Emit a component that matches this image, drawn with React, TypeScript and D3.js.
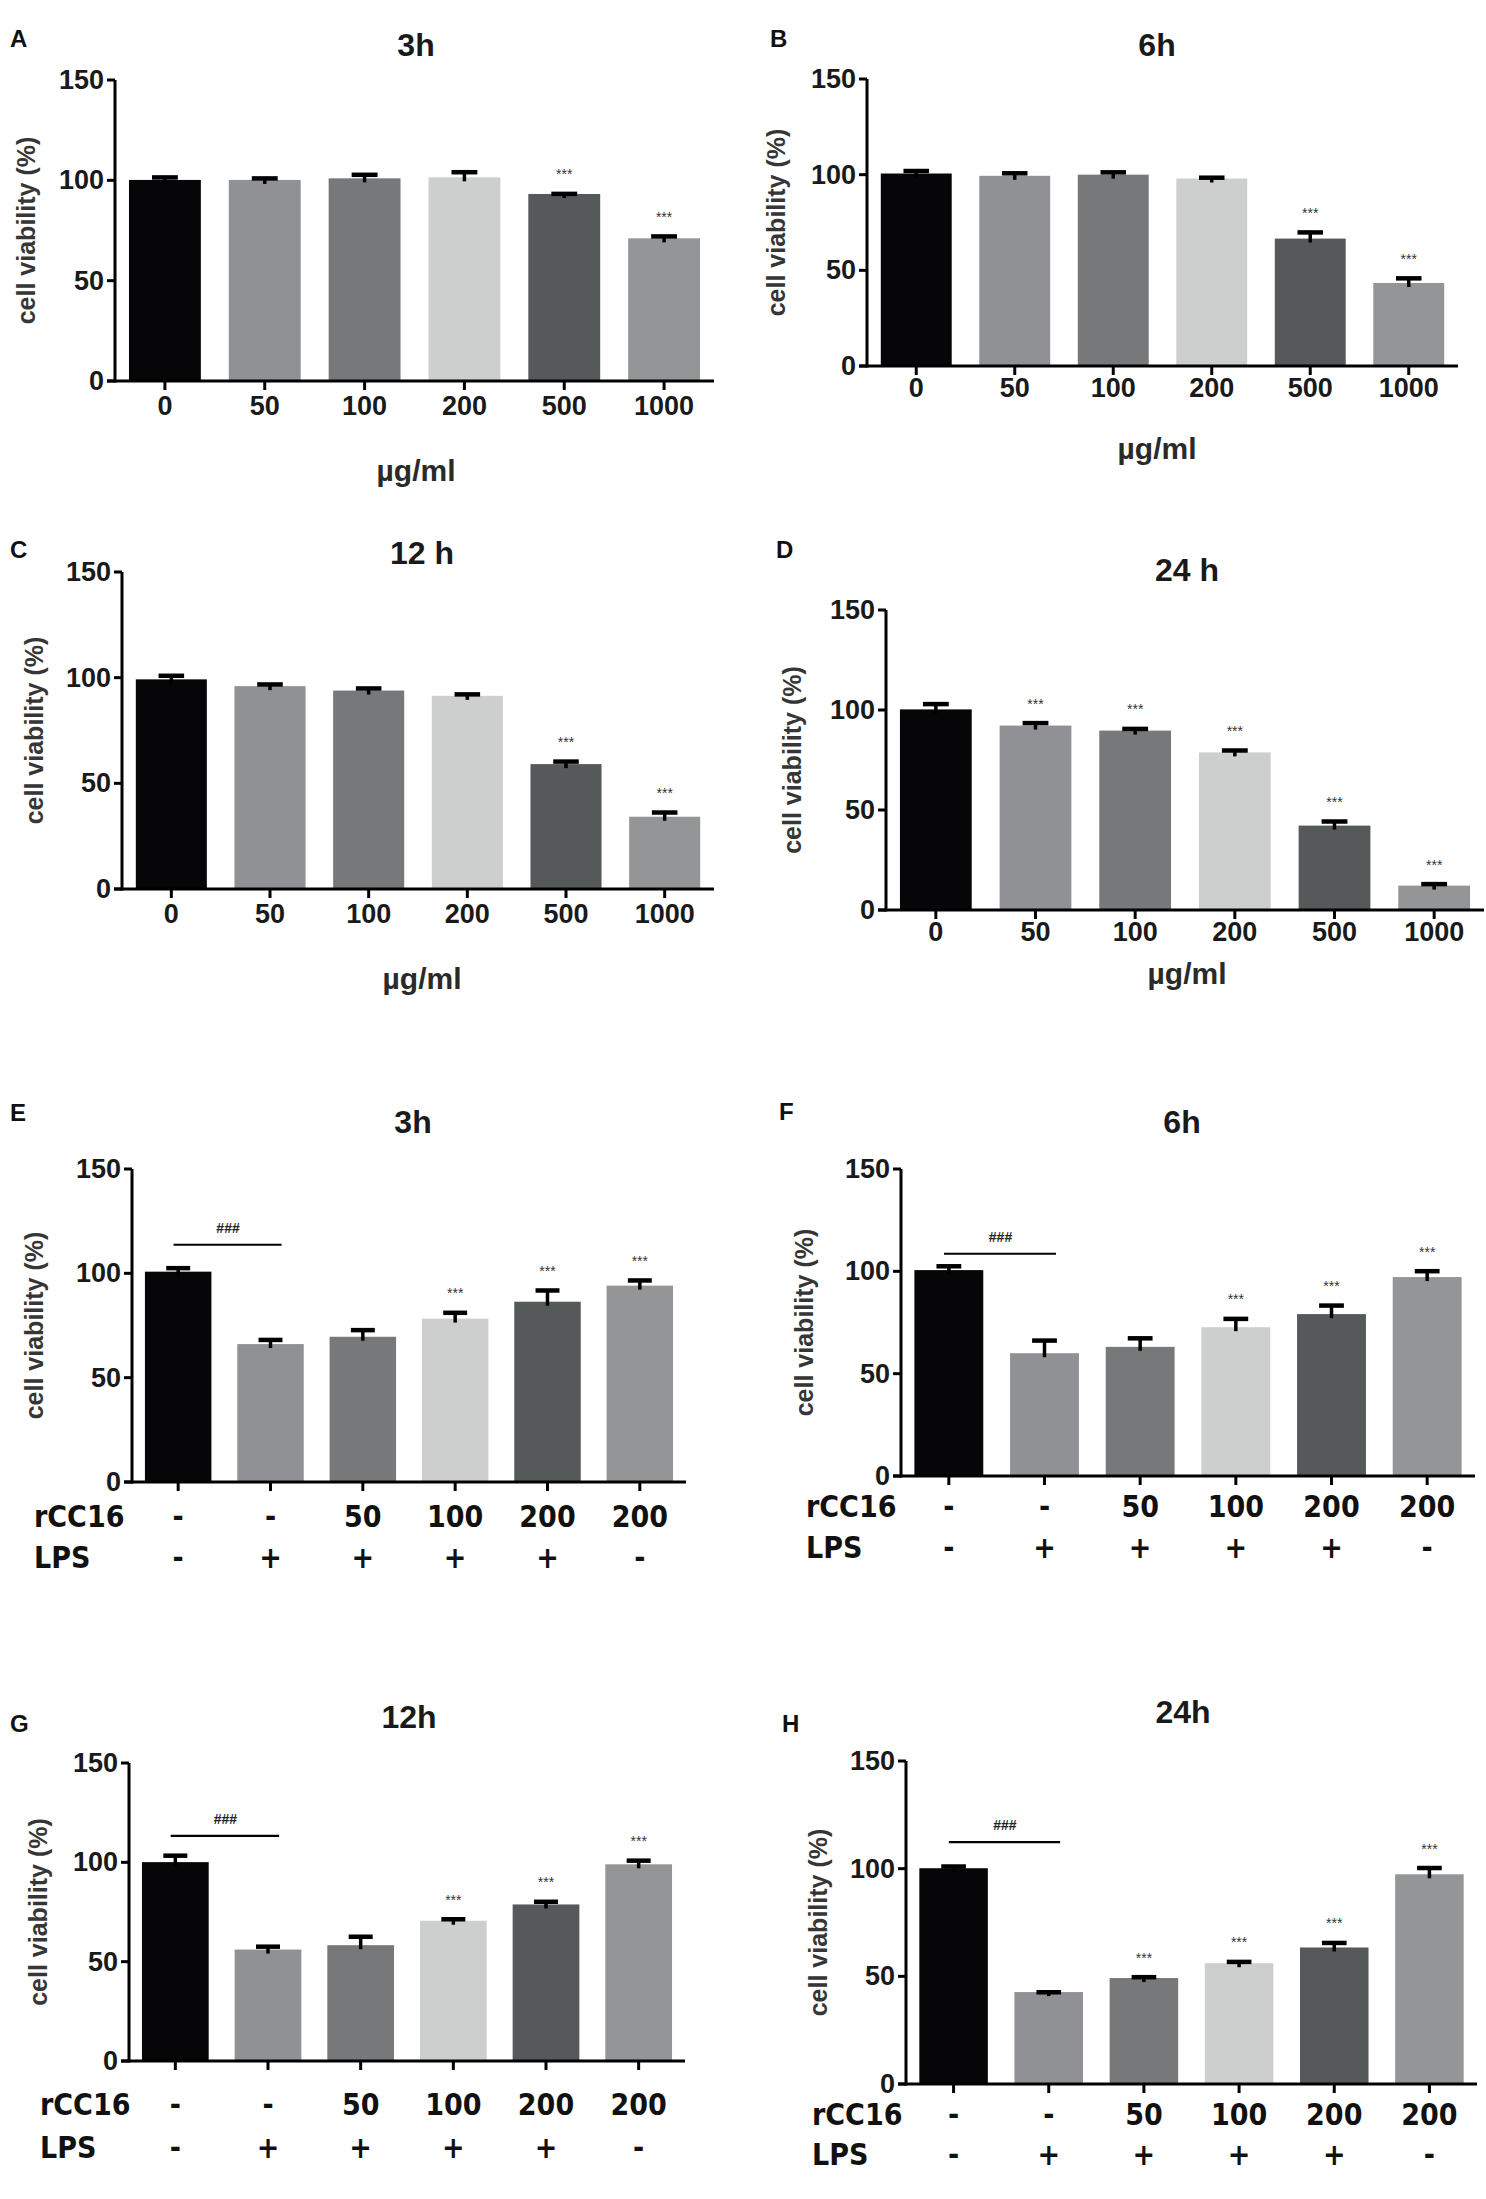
import * as d3 from 'd3';

// ---- data ----
const doseLabels = ['0', '50', '100', '200', '500', '1000'];
const rcc16Labels = ['-', '-', '50', '100', '200', '200'];
const lpsLabels = ['-', '+', '+', '+', '+', '-'];
const yTicks = [0, 50, 100, 150];

const dose3h = [100.2, 100.2, 101, 101.5, 93.2, 71.1];
const dose3hErr = [2.0, 1.5, 2.5, 3.3, 0.8, 1.7];
const dose6h = [100.6, 99.4, 100, 98, 66.6, 43.4];
const dose6hErr = [2.1, 2.1, 2.0, 1.2, 4.0, 3.2];
const dose12h = [99.2, 96, 93.9, 91.4, 59.1, 34.2];
const dose12hErr = [2.4, 1.5, 1.7, 1.4, 1.9, 2.7];
const dose24h = [100.3, 92.2, 89.7, 78.8, 42.2, 12.2];
const dose24hErr = [3.4, 2.0, 1.6, 1.7, 2.8, 1.5];

const lps3h = [100.8, 66.1, 69.6, 78.3, 86.4, 94.1];
const lps3hErr = [2.4, 2.7, 3.9, 3.5, 6.1, 3.2];
const lps6h = [100.6, 60, 63.1, 72.7, 79.1, 97.2];
const lps6hErr = [2.6, 6.9, 4.9, 4.8, 4.9, 3.6];
const lps12h = [100.1, 56.1, 58.3, 70.6, 78.8, 99];
const lps12hErr = [4.0, 2.2, 5.0, 1.5, 2.1, 2.6];
const lps24h = [100.2, 42.7, 49.2, 56.1, 63.4, 97.4];
const lps24hErr = [1.5, 0.6, 1.1, 1.3, 2.8, 3.6];

const sigA = ['', '', '', '', '***', '***'];
const sigB = ['', '', '', '', '***', '***'];
const sigC = ['', '', '', '', '***', '***'];
const sigD = ['', '***', '***', '***', '***', '***'];
const sigE = ['', '', '', '***', '***', '***'];
const sigF = ['', '', '', '***', '***', '***'];
const sigG = ['', '', '', '***', '***', '***'];
const sigH = ['', '', '***', '***', '***', '***'];

// ### bracket height between control and LPS-only
const bracketE = 113.7;
const bracketF = 108.6;
const bracketG = 113.3;
const bracketH = 112.3;

const barColors = ['#060608', '#8f9194', '#76787a', '#cdcfcf', '#56595a', '#939597'];

const FONT = "'Liberation Sans', Arial, Helvetica, sans-serif";
const NARROW = "'Liberation Sans Narrow', 'DejaVu Sans Condensed', 'Noto Sans', sans-serif";

type PanelProps = {
  letter: string;
  title: string;
  values: number[];
  errors: number[];
  sig: string[];
  bracket?: number;
  x0: number; x1: number; yTop: number; yBot: number;
  titleX: number; titleY: number;
  letterX: number; letterY: number;
  ylabX: number;
  tickY?: number; unitY?: number;
  rowX?: number; rccY?: number; lpsY?: number;
};

function Panel(p: PanelProps) {
  const idx = p.values.map((_, i) => String(i));
  const x = d3.scaleBand().domain(idx).range([p.x0, p.x1]).paddingInner(0.28).paddingOuter(0.14);
  const y = d3.scaleLinear().domain([0, 150]).range([p.yBot, p.yTop]);
  const bw = x.bandwidth();
  const capW = bw * 0.36;
  const cx = (i: number) => (x(String(i)) ?? 0) + bw / 2;
  const step = x.step();

  return (
    <g>
      <text x={p.letterX} y={p.letterY} fontFamily={FONT} fontWeight="bold" fontSize={24} fill="#111">{p.letter}</text>
      <text x={p.titleX} y={p.titleY} textAnchor="middle" fontFamily={FONT} fontWeight="bold" fontSize={32} fill="#1a1a1a">{p.title}</text>
      <text transform={`translate(${p.ylabX},${(p.yTop + p.yBot) / 2}) rotate(-90)`} textAnchor="middle" dominantBaseline="central"
        fontFamily={FONT} fontWeight="bold" fontSize={25} fill="#363636">cell viability (%)</text>

      {p.values.map((v, i) => (
        <rect key={'b' + i} x={x(String(i))} y={y(v)} width={bw} height={y(0) - y(v)} fill={barColors[i]} />
      ))}
      {p.values.map((v, i) => (
        <g key={'e' + i} stroke="#000">
          <line x1={cx(i)} x2={cx(i)} y1={y(v) + 4} y2={y(v + p.errors[i])} strokeWidth={3.5} />
          <line x1={cx(i) - capW / 2} x2={cx(i) + capW / 2} y1={y(v + p.errors[i]) + 1.5} y2={y(v + p.errors[i]) + 1.5} strokeWidth={4.5} />
        </g>
      ))}
      {p.values.map((v, i) => p.sig[i] ? (
        <text key={'s' + i} x={cx(i)} y={y(v + p.errors[i]) - 13} textAnchor="middle" fontFamily={FONT} fontSize={14} fill="#333">{p.sig[i]}</text>
      ) : null)}

      {p.bracket !== undefined && (
        <g>
          <line x1={cx(0) - step * 0.05} x2={cx(1) + step * 0.12} y1={y(p.bracket)} y2={y(p.bracket)} stroke="#000" strokeWidth={2.2} />
          <text x={(cx(0) + cx(1)) / 2 + step * 0.04} y={y(p.bracket) - 12} textAnchor="middle" fontFamily={FONT} fontWeight="bold" fontSize={14} fill="#222">###</text>
        </g>
      )}

      {/* axes */}
      <line x1={p.x0} x2={p.x0} y1={p.yTop} y2={p.yBot + 1.5} stroke="#000" strokeWidth={3} />
      <line x1={p.x0 - 8} x2={p.x1} y1={p.yBot} y2={p.yBot} stroke="#000" strokeWidth={3} />
      {yTicks.map((t) => (
        <g key={'yt' + t}>
          <line x1={p.x0 - 8} x2={p.x0} y1={y(t)} y2={y(t)} stroke="#000" strokeWidth={3} />
          <text x={p.x0 - 11} y={y(t)} textAnchor="end" dominantBaseline="central" fontFamily={FONT} fontWeight="bold" fontSize={27} fill="#1a1a1a">{t}</text>
        </g>
      ))}
      {idx.map((_, i) => (
        <line key={'xt' + i} x1={cx(i)} x2={cx(i)} y1={p.yBot} y2={p.yBot + 9} stroke="#000" strokeWidth={3} />
      ))}

      {p.tickY !== undefined && doseLabels.map((d, i) => (
        <text key={'xl' + i} x={cx(i)} y={p.tickY} textAnchor="middle" fontFamily={FONT} fontWeight="bold" fontSize={27} fill="#1a1a1a">{d}</text>
      ))}
      {p.unitY !== undefined && (
        <text x={p.titleX} y={p.unitY} textAnchor="middle" fontFamily={FONT} fontWeight="bold" fontSize={30} fill="#2a2a2a">µg/ml</text>
      )}

      {p.rccY !== undefined && (
        <g fontFamily={NARROW} fontWeight="bold" fontSize={30} fill="#111">
          <text x={p.rowX} y={p.rccY}>rCC16</text>
          <text x={p.rowX} y={p.lpsY}>LPS</text>
          {rcc16Labels.map((d, i) => (
            <text key={'r' + i} x={cx(i)} y={p.rccY} textAnchor="middle">{d}</text>
          ))}
          {lpsLabels.map((d, i) => (
            <text key={'l' + i} x={cx(i)} y={p.lpsY} textAnchor="middle">{d}</text>
          ))}
        </g>
      )}
    </g>
  );
}

export default function App() {
  return (
    <div style={{ position: 'absolute', left: 0, top: 0, background: '#fff' }}>
      <svg width={1486} height={2199} viewBox="0 0 1486 2199" style={{ display: 'block', background: '#fff' }}>
        <Panel letter="A" title="3h" values={dose3h} errors={dose3hErr} sig={sigA}
          x0={115} x1={714} yTop={80} yBot={381} titleX={416} titleY={56} letterX={10} letterY={47} ylabX={26} tickY={415} unitY={481} />
        <Panel letter="B" title="6h" values={dose6h} errors={dose6hErr} sig={sigB}
          x0={867} x1={1458} yTop={79} yBot={366} titleX={1157} titleY={56} letterX={770} letterY={47} ylabX={776} tickY={397} unitY={459} />
        <Panel letter="C" title="12 h" values={dose12h} errors={dose12hErr} sig={sigC}
          x0={122} x1={714} yTop={572} yBot={889} titleX={422} titleY={564} letterX={10} letterY={558} ylabX={34} tickY={923} unitY={989} />
        <Panel letter="D" title="24 h" values={dose24h} errors={dose24hErr} sig={sigD}
          x0={886} x1={1484} yTop={610} yBot={910} titleX={1187} titleY={581} letterX={776} letterY={558} ylabX={792} tickY={941} unitY={984} />
        <Panel letter="E" title="3h" values={lps3h} errors={lps3hErr} sig={sigE} bracket={bracketE}
          x0={132} x1={686} yTop={1169} yBot={1482} titleX={413} titleY={1133} letterX={10} letterY={1121} ylabX={34}
          rowX={34} rccY={1527} lpsY={1568} />
        <Panel letter="F" title="6h" values={lps6h} errors={lps6hErr} sig={sigF} bracket={bracketF}
          x0={901} x1={1475} yTop={1169} yBot={1476} titleX={1182} titleY={1133} letterX={779} letterY={1120} ylabX={804}
          rowX={806} rccY={1517} lpsY={1558} />
        <Panel letter="G" title="12h" values={lps12h} errors={lps12hErr} sig={sigG} bracket={bracketG}
          x0={129} x1={685} yTop={1763} yBot={2061} titleX={409} titleY={1728} letterX={10} letterY={1732} ylabX={38}
          rowX={40} rccY={2115} lpsY={2158} />
        <Panel letter="H" title="24h" values={lps24h} errors={lps24hErr} sig={sigH} bracket={bracketH}
          x0={906} x1={1477} yTop={1761} yBot={2084} titleX={1183} titleY={1723} letterX={782} letterY={1732} ylabX={818}
          rowX={812} rccY={2125} lpsY={2165} />
      </svg>
    </div>
  );
}
